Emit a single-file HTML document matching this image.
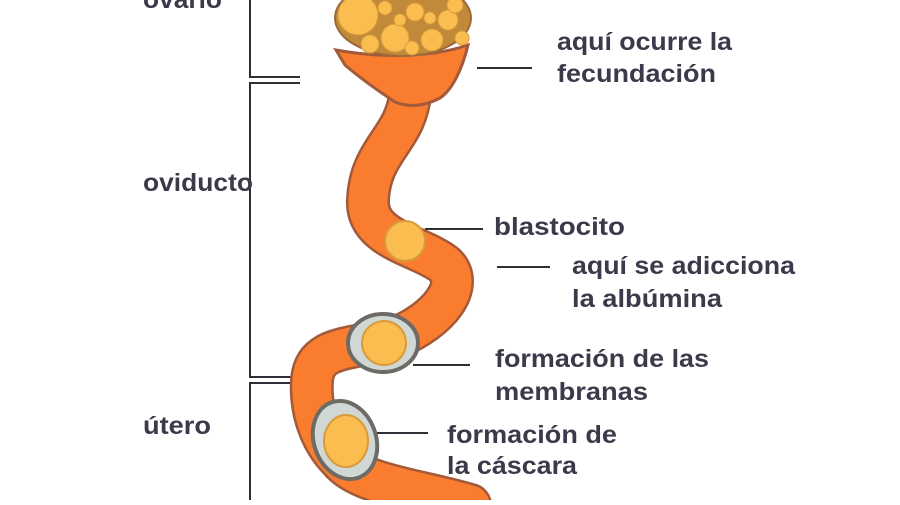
<!DOCTYPE html>
<html><head><style>
html,body{margin:0;padding:0;background:#fff;}
svg text{font-family:"Liberation Sans",sans-serif;font-weight:bold;font-size:25px;fill:#3b3a4a;}
</style></head><body>
<svg width="900" height="500" viewBox="0 0 900 500" xmlns="http://www.w3.org/2000/svg">
<g stroke="#2e2e36" stroke-width="2" fill="none">
<path d="M250 0 V77 H300"/>
<path d="M300 83 H250 V377 H300"/>
<path d="M300 383 H250 V500"/>
<path d="M477 68 H532"/><path d="M425 229 H483"/><path d="M497 267 H550"/>
<path d="M413 365 H470"/><path d="M372 433 H428"/>
</g>
<!-- tube -->
<path d="M410 95 C405 140,370 150,368 200 C366 240,420 245,445 265 C465 285,440 320,395 338 C350 350,315 345,312 380 C310 410,320 440,340 460 C360 485,420 490,470 505" fill="none" stroke="#a35a3a" stroke-width="44" stroke-linecap="round"/>
<path d="M410 95 C405 140,370 150,368 200 C366 240,420 245,445 265 C465 285,440 320,395 338 C350 350,315 345,312 380 C310 410,320 440,340 460 C360 485,420 490,470 505" fill="none" stroke="#f97c2f" stroke-width="39" stroke-linecap="round"/>
<!-- funnel -->
<path d="M336 50 C380 58,430 58,468 45 C462 70,452 90,440 98 C425 106,410 108,395 102 C380 92,360 78,345 65 Z" fill="#f97c2f" stroke="#a35a3a" stroke-width="3"/>
<!-- ovary -->
<ellipse cx="403" cy="18" rx="68" ry="38" fill="#c08a3a" stroke="#9c6a3a" stroke-width="2"/>
<g fill="#fbbd4f" stroke="#d89a3a" stroke-width="1">
<circle cx="358" cy="15" r="20"/><circle cx="395" cy="38" r="14"/><circle cx="432" cy="40" r="11"/>
<circle cx="448" cy="20" r="10"/><circle cx="415" cy="12" r="9"/><circle cx="385" cy="8" r="7"/>
<circle cx="462" cy="38" r="7"/><circle cx="370" cy="44" r="9"/><circle cx="430" cy="18" r="6"/>
<circle cx="400" cy="20" r="6"/><circle cx="455" cy="5" r="8"/><circle cx="412" cy="48" r="7"/>
</g>
<!-- eggs -->
<circle cx="405" cy="241" r="20" fill="#fbbd4f" stroke="#d89a3a" stroke-width="2"/>
<ellipse cx="383" cy="343" rx="35" ry="29" fill="#cfd8d4" stroke="#6e6a66" stroke-width="4"/>
<circle cx="384" cy="343" r="22" fill="#fbbd4f" stroke="#d89a3a" stroke-width="2"/>
<ellipse cx="345" cy="440" rx="31" ry="40" transform="rotate(-20 345 440)" fill="#cfd8d4" stroke="#6e6a66" stroke-width="4"/>
<ellipse cx="346" cy="441" rx="22" ry="26" fill="#fbbd4f" stroke="#d89a3a" stroke-width="2"/>
<!-- labels -->
<text x="143" y="8" textLength="79" lengthAdjust="spacingAndGlyphs">ovario</text>
<text x="557" y="50" textLength="175" lengthAdjust="spacingAndGlyphs">aquí ocurre la</text>
<text x="557" y="82" textLength="159" lengthAdjust="spacingAndGlyphs">fecundación</text>
<text x="143" y="191" textLength="110" lengthAdjust="spacingAndGlyphs">oviducto</text>
<text x="494" y="235" textLength="131" lengthAdjust="spacingAndGlyphs">blastocito</text>
<text x="572" y="274" textLength="223" lengthAdjust="spacingAndGlyphs">aquí se adicciona</text>
<text x="572" y="307" textLength="150" lengthAdjust="spacingAndGlyphs">la albúmina</text>
<text x="495" y="367" textLength="214" lengthAdjust="spacingAndGlyphs">formación de las</text>
<text x="495" y="400" textLength="153" lengthAdjust="spacingAndGlyphs">membranas</text>
<text x="143" y="434" textLength="68" lengthAdjust="spacingAndGlyphs">útero</text>
<text x="447" y="443" textLength="170" lengthAdjust="spacingAndGlyphs">formación de</text>
<text x="447" y="474" textLength="130" lengthAdjust="spacingAndGlyphs">la cáscara</text>
</svg>
</body></html>
